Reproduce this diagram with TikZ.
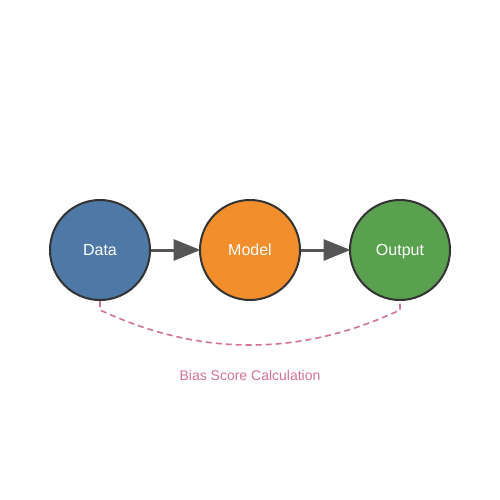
\documentclass[tikz,border=0pt]{standalone}
\usepackage{fontspec}
\setmainfont{Liberation Sans}
\usetikzlibrary{arrows.meta}
\definecolor{cblue}{HTML}{4E79A7}
\definecolor{corange}{HTML}{F28E2B}
\definecolor{cgreen}{HTML}{59A14F}
\definecolor{cpink}{HTML}{D37295}
\definecolor{cstroke}{HTML}{333333}
\definecolor{carrow}{HTML}{555555}
\begin{document}
\begin{tikzpicture}[x=1pt,y=-1pt,
  stage/.style={circle,draw=cstroke,line width=2pt,minimum size=100pt,inner sep=0pt,
    text=white,font=\fontsize{16}{19}\selectfont,text height=11.5pt,text depth=0pt},
  flow/.style={draw=carrow,line width=3pt,shorten >=-1.5pt,-{Triangle[length=27pt,width=21pt]}},
  biasline/.style={draw=cpink,line width=1.6pt,dash pattern=on 6pt off 4pt},
  biaslabel/.style={text=cpink,font=\fontsize{14}{17}\selectfont}]
\useasboundingbox (0,0) rectangle (500,500);
\node[stage,fill=cblue] (data) at (100,250) {Data};
\node[stage,fill=corange] (model) at (250,250) {Model};
\node[stage,fill=cgreen] (output) at (400,250) {Output};
\draw[flow] (data) -- (model);
\draw[flow] (model) -- (output);
\coordinate (b1) at (100,310);
\coordinate (b2) at (400,310);
\draw[biasline] (data.south) -- (b1) .. controls (200,356.7) and (300,356.7) .. (b2) -- (output.south);
\node[biaslabel] (bias) at (250,375) {Bias Score Calculation};
\end{tikzpicture}
\end{document}
